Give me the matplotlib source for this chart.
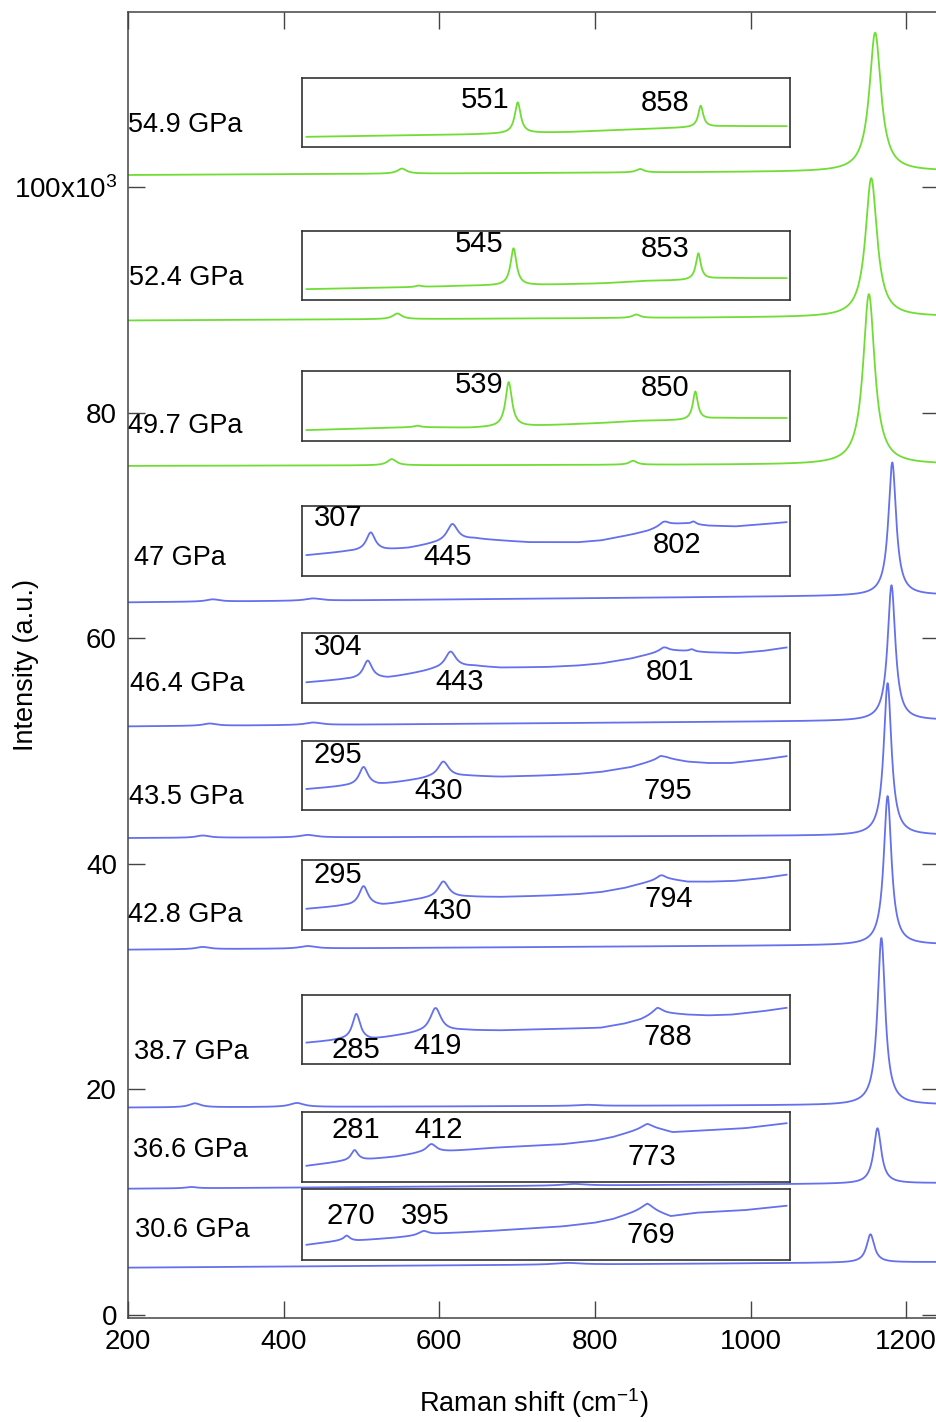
import numpy as np
import matplotlib
matplotlib.use("Agg")
import matplotlib.pyplot as plt

plt.rcParams["font.family"] = ["Liberation Sans", "DejaVu Sans"]
plt.rcParams["mathtext.fontset"] = "custom"
plt.rcParams["mathtext.rm"] = "Liberation Sans"
plt.rcParams["mathtext.it"] = "Liberation Sans:italic"

GREEN = "#70dd35"
BLUE = "#6470ec"

pressures = ["54.9 GPa", "52.4 GPa", "49.7 GPa", "47 GPa", "46.4 GPa",
             "43.5 GPa", "42.8 GPa", "38.7 GPa", "36.6 GPa", "30.6 GPa"]
colors = [GREEN] * 3 + [BLUE] * 7
label_x = [200, 201, 200, 208, 202, 201, 200, 208, 207, 209]
label_y = [105.5, 92.0, 78.8, 67.1, 56.0, 45.9, 35.5, 23.3, 14.6, 7.5]

# main spectra (intensity in 1e3 counts): baseline at 200 and 1242 cm-1
base_left = [101.1, 88.2, 75.3, 63.2, 52.2, 42.3, 32.4, 18.4, 11.2, 4.2]
base_right = [101.45, 88.55, 75.45, 63.85, 52.75, 42.55, 32.85, 18.65, 11.7, 4.7]
# peaks: (position, height, half width)
main_peaks = [
    [(552, 0.45, 7), (858, 0.30, 6), (1160, 12.3, 9)],
    [(546, 0.50, 7), (853, 0.30, 6), (1155, 12.3, 9)],
    [(539, 0.55, 7), (849, 0.35, 6), (1152, 15.1, 9)],
    [(309, 0.20, 10), (438, 0.20, 12), (1182, 11.8, 6)],
    [(305, 0.20, 10), (438, 0.22, 12), (1181, 12.0, 6)],
    [(296, 0.20, 10), (431, 0.22, 12), (1176, 13.5, 6)],
    [(296, 0.20, 10), (431, 0.22, 12), (1176, 13.2, 6)],
    [(286, 0.35, 9), (417, 0.35, 11), (790, 0.10, 15), (1168, 14.8, 6)],
    [(281, 0.12, 8), (773, 0.15, 18), (1163, 4.9, 6)],
    [(765, 0.15, 20), (1154, 2.5, 6)],
]

# inset boxes (main data coords, 1e3)
box_x = (424, 1050)
box_bottom = [103.6, 90.0, 77.5, 65.5, 54.3, 44.8, 34.15, 22.3, 11.8, 4.9]
box_top = [109.7, 96.1, 83.7, 71.75, 60.5, 50.9, 40.35, 28.4, 18.0, 11.2]

# inset spectra: background anchors (cm-1, fraction of box) + peaks
inset_bx = [
    [200, 470, 570, 640, 762, 835, 900, 1000],
    [200, 380, 470, 560, 695, 762, 830, 890, 1000],
    [200, 380, 470, 560, 695, 752, 830, 890, 1000],
    [200, 265, 330, 370, 410, 480, 520, 570, 653, 690, 715, 745, 770, 800, 830, 870, 915, 960, 1000],
    [200, 260, 335, 380, 412, 480, 523, 600, 650, 690, 740, 770, 800, 830, 870, 918, 960, 1000],
    [200, 260, 320, 370, 405, 470, 523, 600, 650, 690, 740, 773, 800, 835, 870, 907, 960, 1000],
    [200, 260, 327, 370, 398, 470, 523, 600, 650, 690, 730, 762, 795, 835, 870, 912, 960, 1000],
    [200, 257, 307, 350, 385, 460, 523, 600, 650, 690, 730, 757, 785, 835, 870, 907, 960, 1000],
    [200, 257, 302, 348, 387, 440, 515, 627, 680, 710, 743, 768, 790, 810, 848, 932, 1000],
    [200, 257, 285, 348, 427, 515, 627, 680, 710, 743, 768, 790, 807, 848, 932, 1000],
]
inset_by = [
    [0.145, 0.18, 0.20, 0.215, 0.26, 0.28, 0.30, 0.30],
    [0.16, 0.19, 0.21, 0.215, 0.245, 0.28, 0.29, 0.32, 0.32],
    [0.157, 0.20, 0.19, 0.21, 0.26, 0.29, 0.30, 0.33, 0.33],
    [0.30, 0.35, 0.37, 0.40, 0.46, 0.53, 0.51, 0.485, 0.485, 0.51, 0.55, 0.60, 0.65, 0.74, 0.75, 0.72, 0.71, 0.74, 0.77],
    [0.29, 0.33, 0.35, 0.42, 0.47, 0.52, 0.50, 0.51, 0.53, 0.56, 0.63, 0.69, 0.75, 0.74, 0.72, 0.71, 0.74, 0.79],
    [0.30, 0.34, 0.36, 0.42, 0.46, 0.49, 0.48, 0.50, 0.52, 0.55, 0.62, 0.70, 0.75, 0.70, 0.68, 0.68, 0.73, 0.78],
    [0.30, 0.34, 0.35, 0.41, 0.44, 0.47, 0.47, 0.49, 0.51, 0.54, 0.60, 0.67, 0.74, 0.69, 0.69, 0.70, 0.74, 0.79],
    [0.30, 0.34, 0.34, 0.40, 0.44, 0.48, 0.48, 0.50, 0.51, 0.52, 0.58, 0.64, 0.74, 0.71, 0.70, 0.71, 0.76, 0.81],
    [0.23, 0.29, 0.32, 0.36, 0.41, 0.44, 0.49, 0.54, 0.59, 0.64, 0.72, 0.78, 0.75, 0.71, 0.73, 0.77, 0.84],
    [0.21, 0.27, 0.27, 0.31, 0.37, 0.41, 0.47, 0.52, 0.57, 0.66, 0.73, 0.66, 0.61, 0.66, 0.70, 0.76],
]
inset_peaks = [
    [(552, 0.45, 6), (857, 0.31, 5)],
    [(545, 0.54, 6), (853, 0.38, 5), (387, 0.02, 6)],
    [(537, 0.64, 6.5), (848, 0.40, 5), (385, 0.02, 6)],
    [(307, 0.26, 9), (443, 0.25, 11), (795, 0.05, 8), (845, 0.04, 5)],
    [(302, 0.26, 9), (440, 0.24, 11), (795, 0.05, 8), (842, 0.03, 5)],
    [(295, 0.27, 9), (428, 0.23, 11), (790, 0.05, 8)],
    [(295, 0.28, 9), (428, 0.24, 11), (790, 0.05, 8)],
    [(283, 0.38, 8), (415, 0.35, 11), (785, 0.07, 10)],
    [(280, 0.15, 7), (408, 0.12, 10), (768, 0.05, 12)],
    [(267, 0.07, 6), (395, 0.06, 10), (768, 0.06, 12)],
]
inset_labels = [
    [(498, 0.68, "551"), (797, 0.64, "858")],
    [(487, 0.81, "545"), (797, 0.75, "853")],
    [(487, 0.80, "539"), (797, 0.757, "850")],
    [(252, 0.83, "307"), (435, 0.27, "445"), (817, 0.44, "802")],
    [(252, 0.79, "304"), (455, 0.29, "443"), (805, 0.44, "801")],
    [(252, 0.80, "295"), (420, 0.28, "430"), (802, 0.28, "795")],
    [(252, 0.79, "295"), (435, 0.27, "430"), (803, 0.44, "794")],
    [(283, 0.19, "285"), (418, 0.26, "419"), (803, 0.39, "788")],
    [(282, 0.74, "281"), (420, 0.74, "412"), (775, 0.36, "773")],
    [(273, 0.62, "270"), (398, 0.62, "395"), (773, 0.35, "769")],
]

xticks = [200, 400, 600, 800, 1000, 1200]
yticks = [0, 20, 40, 60, 80, 100]
ytick_labels = ["0", "20", "40", "60", "80", "100x10$^{3}$"]


def lorentz(x, peaks):
    y = np.zeros_like(x)
    for c, h, w in peaks:
        y += h / (1 + ((x - c) / w) ** 2)
    return y


fig = plt.figure(figsize=(9.37, 14.22), dpi=100)
ax = fig.add_axes([0.1366, 0.0731, 0.8655, 0.9185])
XMIN, XMAX = 200, 1242
ax.set_xlim(XMIN, XMAX)
ax.set_ylim(-0.27, 115.56)

x = np.linspace(XMIN, XMAX, 5000)
for i in range(len(pressures)):
    base = np.interp(x, [XMIN, XMAX], [base_left[i], base_right[i]])
    ax.plot(x, base + lorentz(x, main_peaks[i]), color=colors[i], lw=1.3)
    ax.text(label_x[i], label_y[i], pressures[i], fontsize=19.5,
            ha="left", va="center")

    ins = ax.inset_axes([box_x[0], box_bottom[i], box_x[1] - box_x[0],
                         box_top[i] - box_bottom[i]], transform=ax.transData)
    ins.set_xlim(193, 1005)
    ins.set_ylim(0, 1)
    ins.set_xticks([])
    ins.set_yticks([])
    for s in ins.spines.values():
        s.set_color("#333333")
        s.set_linewidth(1.2)
    xi = np.linspace(200, 1000, 2000)
    yi = np.interp(xi, inset_bx[i], inset_by[i]) + lorentz(xi, inset_peaks[i])
    ins.plot(xi, yi, color=colors[i], lw=1.3)
    for lx, ly, t in inset_labels[i]:
        ins.text(lx, ly, t, fontsize=21, ha="center", va="center")

ax.set_xticks(xticks)
ax.set_yticks(yticks)
ax.set_yticklabels(ytick_labels)
ax.tick_params(direction="in", length=12, width=1, color="#444444",
               top=True, right=True, labelsize=20, pad=8)
for s in ax.spines.values():
    s.set_color("#444444")
    s.set_linewidth(1.1)

ax.set_xlabel("Raman shift (cm$^{-1}$)", fontsize=19.5)
ax.xaxis.set_label_coords(0.5, -0.052)
ax.set_ylabel("Intensity (a.u.)", fontsize=19.5)
ax.yaxis.set_label_coords(-0.11, 0.5)

fig.savefig("out.png", dpi=100)
